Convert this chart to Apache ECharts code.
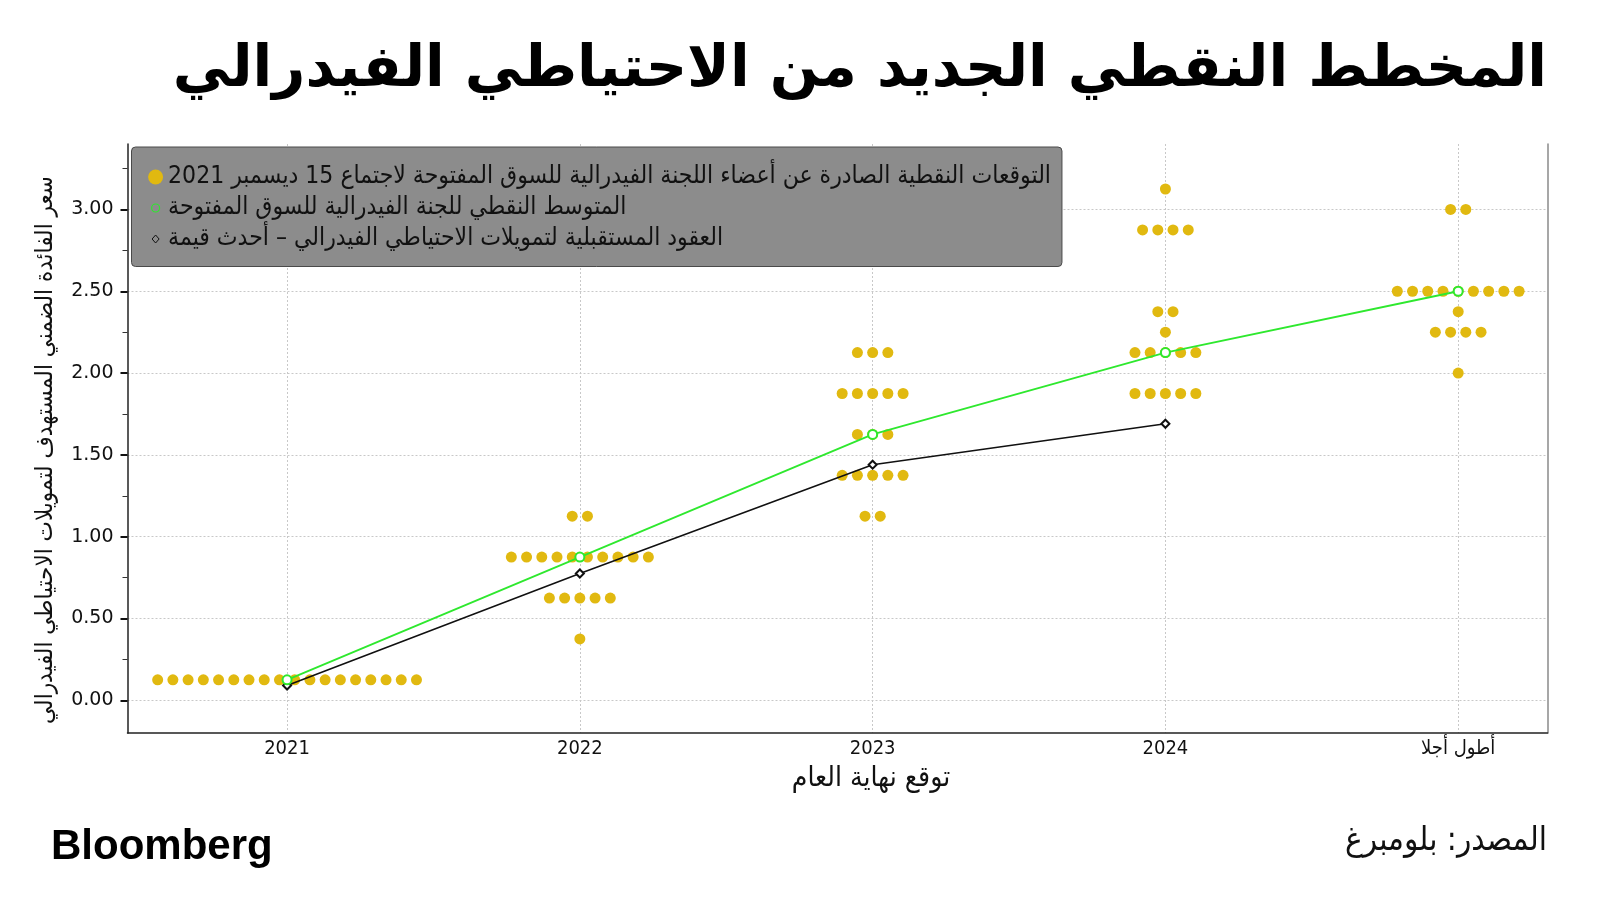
<!DOCTYPE html>
<html><head><meta charset="utf-8">
<script src="https://cdn.jsdelivr.net/npm/echarts@6/dist/echarts.min.js"></script>
<style>html,body{margin:0;padding:0;background:#fff}#c{width:1600px;height:924px}</style>
</head><body><div id="c"></div>
<script>
// ---- data ----
const categories = ['2021', '2022', '2023', '2024', 'أطول أجلا'];
// [rate, number of participants]
const dots2021 = [[0.125, 18]];
const dots2022 = [[1.125, 2], [0.875, 10], [0.625, 5], [0.375, 1]];
const dots2023 = [[2.125, 3], [1.875, 5], [1.625, 3], [1.375, 5], [1.125, 2]];
const dots2024 = [[3.125, 1], [2.875, 4], [2.375, 2], [2.25, 1], [2.125, 5], [1.875, 5]];
const dotsLonger = [[3.0, 2], [2.5, 9], [2.375, 1], [2.25, 4], [2.0, 1]];
const medianValues = [0.125, 0.875, 1.625, 2.125, 2.5];
const futuresValues = [0.09, 0.775, 1.44, 1.69];
const yTickValues = [0, 0.5, 1, 1.5, 2, 2.5, 3];
const yTickLabels = ['0.00', '0.50', '1.00', '1.50', '2.00', '2.50', '3.00'];
const yMinorTickValues = [0.25, 0.75, 1.25, 1.75, 2.25, 2.75, 3.25];

const titleText = 'المخطط النقطي الجديد من الاحتياطي الفيدرالي';
const legendNames = [
  'التوقعات النقطية الصادرة عن أعضاء اللجنة الفيدرالية للسوق المفتوحة لاجتماع 15 ديسمبر 2021',
  'المتوسط النقطي للجنة الفيدرالية للسوق المفتوحة',
  'العقود المستقبلية لتمويلات الاحتياطي الفيدرالي – أحدث قيمة'
];
const yAxisTitle = 'سعر الفائدة الضمني المستهدف لتمويلات الاحتياطي الفيدرالي';
const xAxisTitle = 'توقع نهاية العام';
const sourceText = 'المصدر: بلومبرغ';

// ---- build ----
const DOT_STEP = 0.052;
const allDots = [dots2021, dots2022, dots2023, dots2024, dotsLonger];
const dotData = [];
allDots.forEach((levels, i) => {
  levels.forEach(([rate, n]) => {
    for (let k = 0; k < n; k++) dotData.push([i + (k - (n - 1) / 2) * DOT_STEP, rate]);
  });
});
const medianData = medianValues.map((v, i) => [i, v]);
const futuresData = futuresValues.map((v, i) => [i, v]);

const AR = "'DejaVu Sans Condensed', 'DejaVu Sans', sans-serif";
const GOLD = '#e1b910';
const GREEN = '#2ee82e';
const LEGEND_BG = '#8c8c8c';

// small legend icons inside a 15x15 box (first two moves fix the box)
const smallCircleIcon = 'path://M0 0M15 15M3.5 7.5A4 4 0 1 0 11.5 7.5A4 4 0 1 0 3.5 7.5Z';
const smallDiamondIcon = 'path://M0 0M15 15M7.5 3.5L11 7.5L7.5 11.5L4 7.5Z';

const chart = echarts.init(document.getElementById('c'), null, {renderer: 'canvas'});
const xMin = -0.545, xMax = 4.305;
chart.setOption({
  animation: false,
  backgroundColor: '#ffffff',
  grid: {left: 127.5, right: 52.5, top: 144, bottom: 191, containLabel: false},
  xAxis: {
    type: 'value', min: xMin, max: xMax,
    axisLine: {show: true, onZero: false, lineStyle: {color: '#222', width: 1.5}},
    axisTick: {show: false, customValues: [0, 1, 2, 3, 4]},
    axisLabel: {
      customValues: [0, 1, 2, 3, 4],
      formatter: v => categories[Math.round(v)],
      fontFamily: AR, fontSize: 20, color: '#111', margin: 6
    },
    splitLine: {show: true, lineStyle: {color: '#c8c8c8', type: [2, 2], width: 1}}
  },
  yAxis: [
    {
      type: 'value', min: -0.2, max: 3.4, position: 'left',
      axisLine: {show: true, onZero: false, lineStyle: {color: '#222', width: 1.5}},
      axisTick: {show: true, inside: false, length: 7, customValues: yTickValues, lineStyle: {color: '#111', width: 2}},
      axisLabel: {
        customValues: yTickValues,
        formatter: v => yTickLabels[yTickValues.indexOf(v)] || v.toFixed(2),
        fontFamily: "'DejaVu Sans', sans-serif", fontSize: 19, color: '#111', margin: 14
      },
      splitLine: {show: true, lineStyle: {color: '#c8c8c8', type: [2, 2], width: 1}}
    },
    {
      type: 'value', min: -0.2, max: 3.4, position: 'left',
      axisLine: {show: false, onZero: false},
      axisTick: {show: true, length: 5, customValues: yMinorTickValues, lineStyle: {color: '#333', width: 1}},
      axisLabel: {show: false}, splitLine: {show: false}
    },
    {
      type: 'value', min: -0.2, max: 3.4, position: 'right',
      axisLine: {show: true, onZero: false, lineStyle: {color: '#8a8a8a', width: 1.5}},
      axisTick: {show: false}, axisLabel: {show: false}, splitLine: {show: false}
    }
  ],
  legend: {
    orient: 'vertical', left: 131.5, top: 147,
    backgroundColor: LEGEND_BG, borderColor: '#4a4a4a', borderWidth: 1, borderRadius: 4,
    padding: [17.5, 11, 15, 16],
    itemGap: 6, itemWidth: 15, itemHeight: 15,
    textStyle: {fontFamily: AR, fontSize: 24.5, lineHeight: 24, color: '#111'},
    data: [
      {name: legendNames[0], icon: 'circle', itemStyle: {color: GOLD, borderWidth: 0}},
      {name: legendNames[1], icon: smallCircleIcon, itemStyle: {color: LEGEND_BG, borderColor: GREEN, borderWidth: 1.2}},
      {name: legendNames[2], icon: smallDiamondIcon, itemStyle: {color: LEGEND_BG, borderColor: '#111', borderWidth: 1}}
    ],
    selectedMode: false
  },
  graphic: [
    {type: 'text', right: 53, top: 42, style: {text: titleText, font: "bold 57.5px 'DejaVu Sans', sans-serif", fill: '#000', textAlign: 'right'}},
    {type: 'text', x: 46, y: 450, rotation: Math.PI / 2, style: {text: yAxisTitle, font: "24px " + AR, fill: '#111', textAlign: 'center', textVerticalAlign: 'middle'}},
    {type: 'text', x: 871, y: 779, style: {text: xAxisTitle, font: "28px " + AR, fill: '#111', textAlign: 'center', textVerticalAlign: 'middle'}},
    {type: 'text', left: 51, top: 826, style: {text: 'Bloomberg', font: "bold 42px 'Liberation Sans', Arial, sans-serif", fill: '#000'}},
    {type: 'text', right: 53, top: 825, style: {text: sourceText, font: "33px " + AR, fill: '#111', textAlign: 'right'}}
  ],
  series: [
    {
      name: legendNames[0], type: 'scatter', data: dotData, symbol: 'circle', symbolSize: 11,
      itemStyle: {color: GOLD, opacity: 1}, z: 2
    },
    {
      name: legendNames[1], type: 'line', data: medianData, symbol: 'emptyCircle', symbolSize: 9,
      lineStyle: {color: GREEN, width: 1.8}, itemStyle: {color: GREEN, borderColor: GREEN, borderWidth: 1.2}, z: 4
    },
    {
      name: legendNames[2], type: 'line', data: futuresData, symbol: 'emptyDiamond', symbolSize: 8,
      lineStyle: {color: '#111', width: 1.6}, itemStyle: {color: '#111', borderColor: '#111', borderWidth: 1}, z: 3
    }
  ]
});
</script></body></html>
